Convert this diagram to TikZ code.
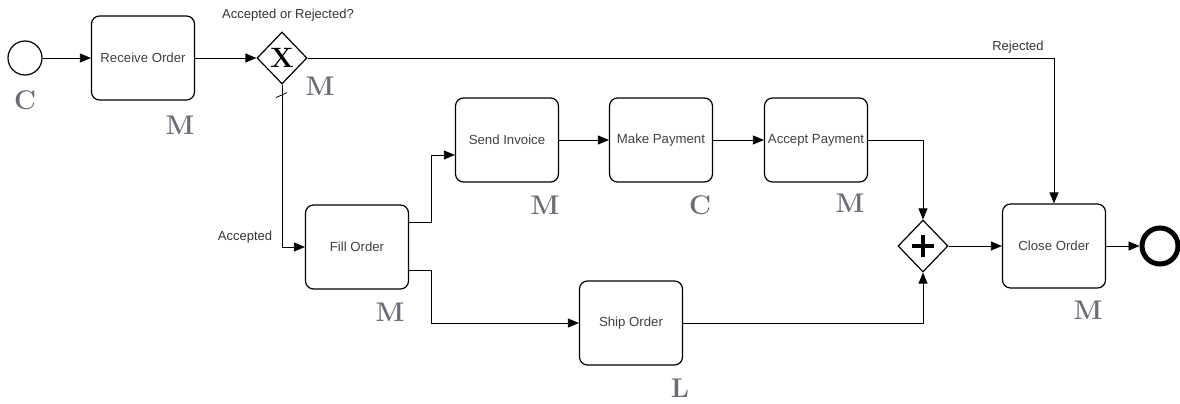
\documentclass[tikz,border=0pt]{standalone}
\usepackage{fontspec}
\setsansfont{Liberation Sans}
\usetikzlibrary{arrows.meta,shapes.geometric,calc}
\definecolor{lettergray}{RGB}{104,108,118}
\begin{document}
\begin{tikzpicture}[x=1pt,y=-1pt,
  task/.style={draw, rounded corners=8pt, line width=1.2pt, minimum width=103pt, minimum height=84pt,
    font=\sffamily\fontsize{13.2}{15}\selectfont, text=black!75, inner sep=0pt},
  flow/.style={-{Triangle[length=11pt,width=9pt]}, line width=0.8pt},
  lbl/.style={font=\sffamily\fontsize{13}{15}\selectfont, text=black!80},
  res/.style={font=\fontsize{27}{27}\selectfont\bfseries, text=lettergray},
  gw/.style={draw, diamond, line width=1.2pt, minimum width=50pt, minimum height=52pt, inner sep=0pt}
]
\useasboundingbox (0,0) rectangle (1180,404);

\node[circle, draw, line width=1.2pt, minimum size=34pt, inner sep=0pt] (start) at (25,58) {};
\node[task] (recv) at (143,58) {Receive Order};
\node[gw] (xg) at (282,58) {};
\node (xmark) at (282,58) {\fontsize{28}{28}\selectfont\bfseries X};
\node[task] (fill) at (357,247) {Fill Order};
\node[task] (send) at (507,140) {Send Invoice};
\node[task] (pay) at (661,140) {Make Payment};
\node[task] (acc) at (816,140) {Accept Payment};
\node[task] (ship) at (631,323) {Ship Order};
\node[gw] (pg) at (923,246) {};
\draw[line width=3.2pt] ($(pg.center)+(-11,0)$) -- ($(pg.center)+(11,0)$);
\draw[line width=3.2pt] ($(pg.center)+(0,-11)$) -- ($(pg.center)+(0,11)$);
\node[task] (close) at (1054,246) {Close Order};
\node[circle, draw, line width=5pt, minimum size=36pt, inner sep=0pt] (end) at (1160,246) {};

\node[lbl] (qlbl) at (288,15) {Accepted or Rejected?};
\node[lbl] (rej) at (1018,47) {Rejected};
\node[lbl] (acpt) at (245,237) {Accepted};

\draw[flow] (start) -- (recv);
\draw[flow] (recv.east) -- (xg.west);
\draw[flow] (xg.east) -| (close.north);
\draw[flow] (xg.south) |- (fill.west);
\draw[line width=0.8pt] ($(xg.south)+(-6,13)$) -- ($(xg.south)+(5,8)$);
\coordinate (f1) at ($(fill.east)+(0,-25)$);
\coordinate (f2) at ($(fill.east)+(0,23)$);
\coordinate (s1) at ($(send.west)+(0,15)$);
\draw[flow] (f1) -- ++(22,0) |- (s1);
\draw[flow] (f2) -- ++(22,0) |- (ship.west);
\draw[flow] (send) -- (pay);
\draw[flow] (pay) -- (acc);
\draw[flow] (acc.east) -| (pg.north);
\draw[flow] (ship.east) -| (pg.south);
\draw[flow] (pg.east) -- (close.west);
\draw[flow] (close.east) -- (end.west);

\node[res] (r1) at (25,100) {C};
\node[res] (r2) at (180,125) {M};
\node[res] (r3) at (320,86) {M};
\node[res] (r4) at (545,205) {M};
\node[res] (r5) at (700,205) {C};
\node[res] (r6) at (850,203) {M};
\node[res] (r7) at (390,312) {M};
\node[res] (r8) at (680,388) {L};
\node[res] (r9) at (1088,310) {M};
\end{tikzpicture}
\end{document}
